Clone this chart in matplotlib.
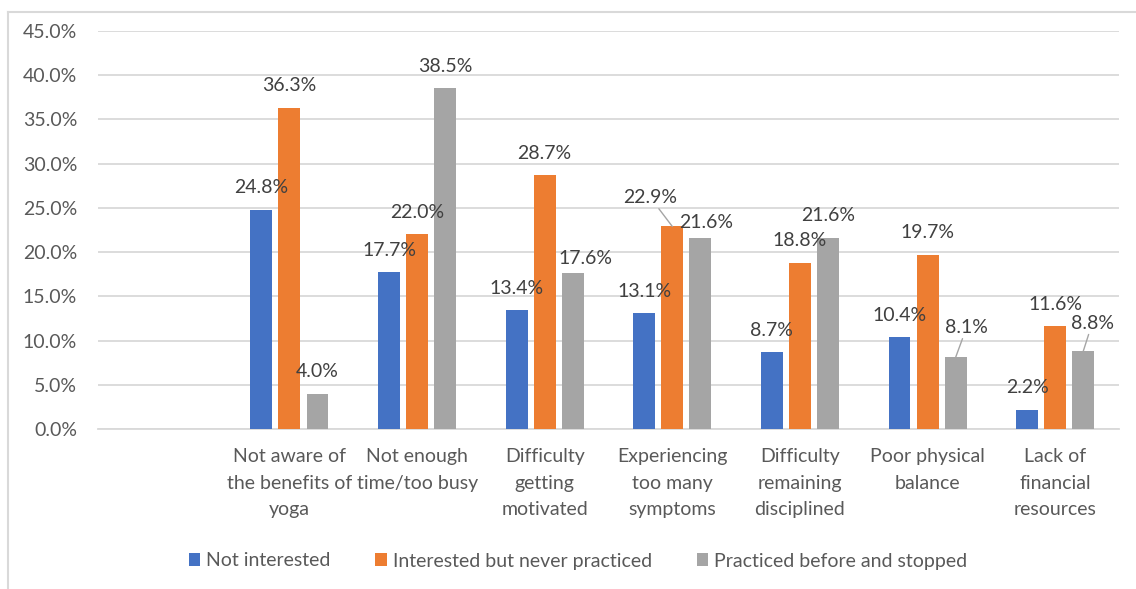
import numpy as np
import matplotlib
matplotlib.use("Agg")
import matplotlib.pyplot as plt
from matplotlib.lines import Line2D

plt.rcParams['font.family'] = ['Lato', 'DejaVu Sans']

categories = ['', 'Not aware of\nthe benefits of\nyoga', 'Not enough\ntime/too busy',
              'Difficulty\ngetting\nmotivated', 'Experiencing\ntoo many\nsymptoms',
              'Difficulty\nremaining\ndisciplined', 'Poor physical\nbalance',
              'Lack of\nfinancial\nresources']
series_names = ['Not interested', 'Interested but never practiced', 'Practiced before and stopped']
not_interested = [24.8, 17.7, 13.4, 13.1, 8.7, 10.4, 2.2]
interested_never = [36.3, 22.0, 28.7, 22.9, 18.8, 19.7, 11.6]
practiced_stopped = [4.0, 38.5, 17.6, 21.6, 21.6, 8.1, 8.8]
y_ticks = [0, 5, 10, 15, 20, 25, 30, 35, 40, 45]

colors = ['#4472C4', '#ED7D31', '#A5A5A5']
grid_col = '#D9D9D9'
text_col = '#595959'
fs = 14

# label offsets in pixels (dx, dy, leader) for labels Excel moved around
special = {(2, 2): (13, 15, False), (1, 3): (-22, 29, True), (2, 3): (6, 15, False),
           (2, 5): (11, 30, True), (2, 6): (9, 28, True)}

fig = plt.figure(figsize=(11.36, 5.89), dpi=100)
ax = fig.add_axes([98 / 1136, 1 - 429 / 589, (1119 - 98) / 1136, (429 - 31) / 589])

x = np.arange(1, 8)
width = 0.172
step = 0.22
all_series = [not_interested, interested_never, practiced_stopped]
for i, (vals, name, c) in enumerate(zip(all_series, series_names, colors)):
    xs = x + (i - 1) * step
    ax.bar(xs, vals, width, color=c, label=name, zorder=3)
    for j, (xx, v) in enumerate(zip(xs, vals)):
        dx, dy, leader = special.get((i, j), (0, 22, False))
        arrow = dict(arrowstyle='-', color='#A5A5A5', lw=1, shrinkA=0, shrinkB=0) if leader else None
        ax.annotate(f'{v:.1f}%', xy=(xx, v), xytext=(dx, dy), textcoords='offset pixels',
                    ha='center', va='center', fontsize=fs, color='#404040',
                    arrowprops=arrow, zorder=4)

ax.set_xlim(-0.5, 7.5)
ax.set_ylim(0, 45)
ax.set_yticks(y_ticks)
ax.set_yticklabels([f'{t:.1f}%' for t in y_ticks])
ax.set_xticks(np.arange(8))
ax.set_xticklabels(categories)
ax.tick_params(axis='both', length=0, labelsize=fs, labelcolor=text_col)
ax.tick_params(axis='y', pad=15)
ax.tick_params(axis='x', pad=14)
ax.grid(axis='y', color=grid_col, lw=1.3, zorder=0)
for s in ['top', 'right', 'left']:
    ax.spines[s].set_visible(False)
ax.spines['bottom'].set_color(grid_col)
ax.spines['bottom'].set_linewidth(1.3)

fig.legend(loc='center', bbox_to_anchor=(578 / 1136, 1 - 561 / 589), ncol=3, frameon=False,
           fontsize=fs, labelcolor=text_col, handlelength=0.6, handleheight=0.6,
           handletextpad=0.3, columnspacing=2.3)

# outer chart border
fig.add_artist(Line2D([8 / 1136, 8 / 1136], [0, 1 - 12 / 589], color=grid_col, lw=1.5))
fig.add_artist(Line2D([8 / 1136, 1], [1 - 12 / 589, 1 - 12 / 589], color=grid_col, lw=1.5))

fig.canvas.draw()
for t in ax.get_xticklabels():
    t.set_linespacing(1.65)

fig.savefig('out.png', dpi=100)
